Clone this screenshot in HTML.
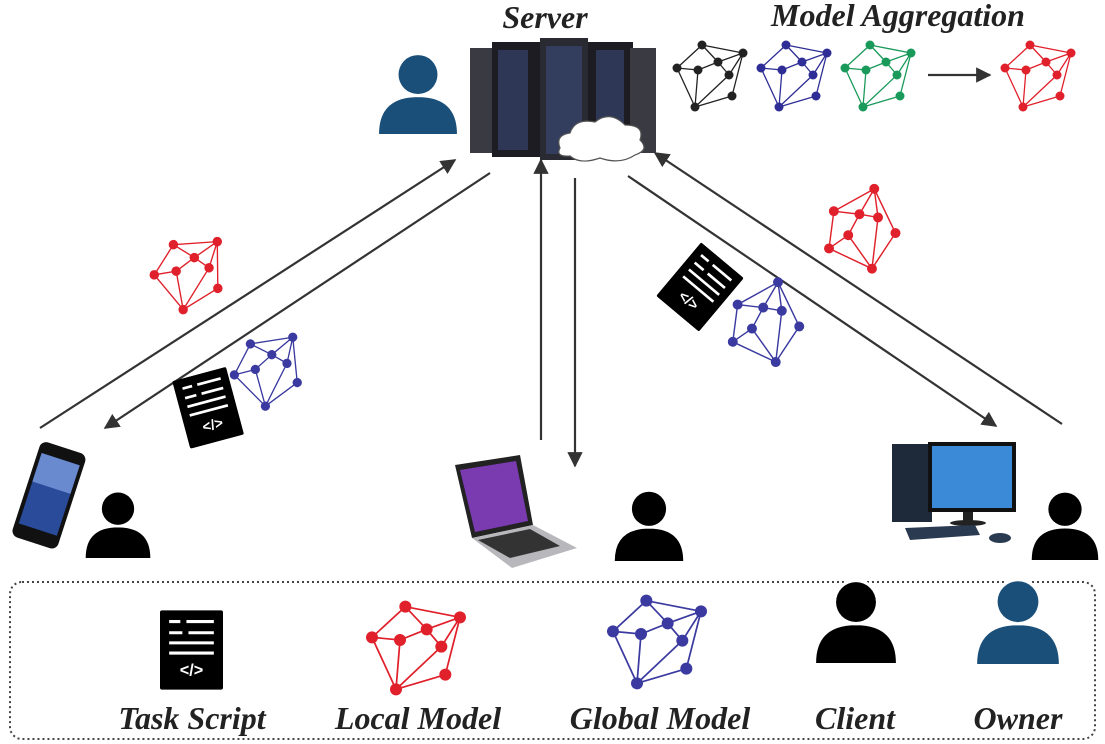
<!DOCTYPE html>
<html><head><meta charset="utf-8"><style>
html,body{margin:0;padding:0;background:#fff;}
svg{display:block;}
.t{font-family:"Liberation Serif",serif;font-weight:bold;font-style:italic;fill:#222;}
</style></head><body>
<svg width="1105" height="744" viewBox="0 0 1105 744" xmlns="http://www.w3.org/2000/svg">
<defs>
<symbol id="g" viewBox="-5 -5 76 72">
<g stroke="currentColor" stroke-width="1.3" fill="none">
<path d="M25,0L66,8M25,0L0,23M25,0L41,17M41,17L66,8M66,8L52,30M66,8L55,51M0,23L21,25M21,25L41,17M41,17L52,30M0,23L18,62M21,25L18,62M52,30L18,62M55,51L18,62"/>
</g>
<g fill="currentColor">
<circle cx="25" cy="0" r="4.5"/><circle cx="66" cy="8" r="4.5"/><circle cx="0" cy="23" r="4.5"/><circle cx="21" cy="25" r="4.5"/><circle cx="41" cy="17" r="4.5"/><circle cx="52" cy="30" r="4.5"/><circle cx="55" cy="51" r="4.5"/><circle cx="18" cy="62" r="4.5"/>
</g>
</symbol>
<symbol id="s" viewBox="0 0 62 78">
<rect x="0" y="0" width="62" height="78" rx="2" fill="#000"/>
<g stroke="#fff" stroke-width="3">
<path d="M9,11H20M26,11H53M9,22H22M28,22H53M9,32H53M9,42H53"/>
</g>
<text x="31" y="64" font-family="Liberation Sans,sans-serif" font-size="16" font-weight="bold" fill="#fff" text-anchor="middle">&lt;/&gt;</text>
</symbol>
<symbol id="p" viewBox="0 0 80 80">
<path d="M2,80 Q2,44 40,44 Q78,44 78,80 Z" fill="currentColor"/>
<circle cx="40" cy="22" r="22" fill="#fff"/>
<circle cx="40" cy="22" r="19" fill="currentColor"/>
</symbol>
<marker id="a" viewBox="0 0 10 10" refX="9" refY="5" markerWidth="7" markerHeight="7" orient="auto"><path d="M0,0L10,5L0,10Z" fill="#333"/></marker>
</defs>

<g stroke="#333" stroke-width="2.2" fill="none" marker-end="url(#a)">
<line x1="40" y1="428" x2="455" y2="160"/>
<line x1="490" y1="173" x2="105" y2="428"/>
<line x1="541" y1="440" x2="541" y2="160"/>
<line x1="575" y1="178" x2="575" y2="466"/>
<line x1="628" y1="176" x2="996" y2="426"/>
<line x1="1062" y1="424" x2="655" y2="153"/>
<line x1="928" y1="75" x2="990" y2="75"/>
</g>

<g>
<rect x="470" y="48" width="32" height="105" fill="#3a3a42"/>
<rect x="492" y="42" width="48" height="115" fill="#1c1c22"/>
<rect x="540" y="38" width="48" height="122" fill="#2a2a32"/>
<rect x="588" y="42" width="45" height="115" fill="#1c1c22"/>
<rect x="630" y="48" width="26" height="105" fill="#3a3a42"/>
<g fill="#3a4a7a" opacity="0.6">
<rect x="498" y="50" width="30" height="100"/><rect x="546" y="46" width="36" height="108"/><rect x="596" y="50" width="28" height="100"/>
</g>
<path d="M560,148 Q555,135 570,133 Q575,118 595,122 Q610,110 625,125 Q645,125 640,140 Q650,150 635,155 Q620,165 600,158 Q580,165 570,156 Q555,157 560,148Z" fill="#fff" stroke="#555" stroke-width="1.2"/>
</g>
<text class="t" x="545" y="28" font-size="32" text-anchor="middle">Server</text>
<text class="t" x="898" y="26" font-size="32" text-anchor="middle">Model Aggregation</text>

<use href="#p" x="376" y="52" width="84" height="82" color="#1a4f7a"/>

<use href="#g" x="672" y="40" width="76" height="72" color="#222"/>
<use href="#g" x="756" y="40" width="76" height="72" color="#2e2e96"/>
<use href="#g" x="840" y="40" width="76" height="72" color="#1a9a5a"/>
<use href="#g" x="1000" y="40" width="76" height="72" color="#e0202a"/>

<use href="#g" x="150" y="236" width="80" height="76" color="#e0202a" transform="rotate(-15 190 274)"/>
<use href="#g" x="230" y="334" width="78" height="74" color="#3a3aa0" transform="rotate(-20 269 371)"/>
<use href="#s" x="180" y="372" width="56" height="70" transform="rotate(-15 211 407)"/>
<use href="#g" x="820" y="192" width="84" height="80" color="#e0202a" transform="rotate(-40 862 231)"/>
<use href="#g" x="724" y="286" width="84" height="80" color="#3a3aa0" transform="rotate(-40 765 325)"/>
<use href="#s" x="672" y="252" width="56" height="70" transform="rotate(40 700 287)"/>

<g transform="rotate(18 48 495)">
<rect x="25" y="445" width="48" height="100" rx="7" fill="#111"/>
<rect x="29" y="457" width="40" height="74" fill="#2a4a9a"/>
<rect x="29" y="457" width="40" height="30" fill="#6a8ad0"/>
</g>
<use href="#p" x="84" y="488" width="68" height="72" color="#000"/>

<polygon points="455,465 520,455 533,525 472,538" fill="#222"/>
<polygon points="460,470 516,461 528,521 475,532" fill="#7a3ab0"/>
<polygon points="472,538 533,525 577,548 512,568" fill="#b8b8bc"/>
<polygon points="478,540 530,529 560,546 510,558" fill="#333"/>
<use href="#p" x="613" y="488" width="72" height="74" color="#000"/>

<rect x="892" y="444" width="40" height="78" fill="#1e2a3a"/>
<rect x="928" y="442" width="88" height="70" fill="#111"/>
<rect x="932" y="446" width="80" height="62" fill="#3a8ad8"/>
<rect x="963" y="512" width="10" height="10" fill="#222"/>
<ellipse cx="968" cy="523" rx="18" ry="3" fill="#222"/>
<polygon points="905,528 975,525 980,535 910,540" fill="#2a3a50"/>
<ellipse cx="1000" cy="538" rx="11" ry="5" fill="#2a3a50"/>
<use href="#p" x="1030" y="488" width="70" height="74" color="#000"/>

<rect x="10" y="582" width="1085" height="157" rx="12" fill="none" stroke="#444" stroke-width="2" stroke-dasharray="2 3"/>
<use href="#s" x="160" y="610" width="63" height="80"/>
<use href="#g" x="365" y="600" width="102" height="96" color="#e0202a"/>
<use href="#g" x="606" y="594" width="102" height="96" color="#3a3aa0"/>
<use href="#p" x="814" y="578" width="84" height="86" color="#000"/>
<use href="#p" x="975" y="578" width="86" height="86" color="#1a4f7a"/>
<text class="t" x="192" y="729" font-size="32" text-anchor="middle">Task Script</text>
<text class="t" x="418" y="729" font-size="32" text-anchor="middle">Local Model</text>
<text class="t" x="660" y="729" font-size="32" text-anchor="middle">Global Model</text>
<text class="t" x="855" y="729" font-size="32" text-anchor="middle">Client</text>
<text class="t" x="1018" y="729" font-size="32" text-anchor="middle">Owner</text>
</svg>
</body></html>
